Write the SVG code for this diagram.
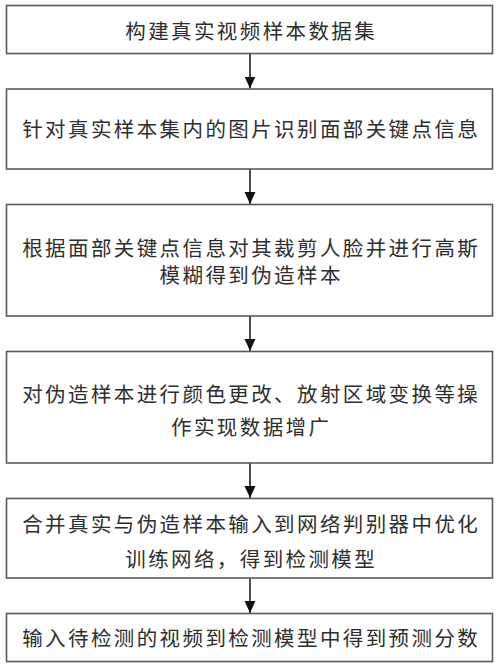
<svg xmlns="http://www.w3.org/2000/svg" width="500" height="668" viewBox="0 0 500 668">
<style>
.box{fill:#fff;stroke:#5a5a5a;stroke-width:1.6}
.t{font-family:"Noto Sans CJK SC","Noto Sans",sans-serif;font-size:20.5px;letter-spacing:2.4px;fill:#2e2e2e;text-anchor:middle;dominant-baseline:central}
.c{stroke:#111;stroke-width:1.5;fill:none}
</style>
<defs>
<marker id="ah" markerUnits="userSpaceOnUse" markerWidth="12" markerHeight="12" viewBox="0 0 11 10" refX="11" refY="5" orient="auto">
<path d="M0,0 L11,5 L0,10 Z" fill="#111"/>
</marker>
</defs>
<rect width="500" height="668" fill="#fff"/>
<g id="connectors">
<line class="c" x1="250" y1="53.5" x2="250" y2="88.5" marker-end="url(#ah)"/>
<line class="c" x1="250" y1="169" x2="250" y2="204" marker-end="url(#ah)"/>
<line class="c" x1="250" y1="316" x2="250" y2="351" marker-end="url(#ah)"/>
<line class="c" x1="250" y1="463" x2="250" y2="498" marker-end="url(#ah)"/>
<line class="c" x1="250" y1="578" x2="250" y2="613" marker-end="url(#ah)"/>
</g>
<g id="n1">
<rect class="box" x="6.5" y="5.5" width="486" height="48"/>
<text class="t" x="251.2" y="30">构建真实视频样本数据集</text>
</g>
<g id="n2">
<rect class="box" x="6.5" y="89" width="486" height="80"/>
<text class="t" x="251.2" y="127.5">针对真实样本集内的图片识别面部关键点信息</text>
</g>
<g id="n3">
<rect class="box" x="6.5" y="204.5" width="486" height="111.5"/>
<text class="t" x="251.2" y="246.5">根据面部关键点信息对其裁剪人脸并进行高斯</text>
<text class="t" x="251.2" y="274">模糊得到伪造样本</text>
</g>
<g id="n4">
<rect class="box" x="6.5" y="351.5" width="486" height="111.5"/>
<text class="t" x="251.2" y="393">对伪造样本进行颜色更改、放射区域变换等操</text>
<text class="t" x="251.2" y="426">作实现数据增广</text>
</g>
<g id="n5">
<rect class="box" x="6.5" y="498.5" width="486" height="79.5"/>
<text class="t" x="251.2" y="523">合并真实与伪造样本输入到网络判别器中优化</text>
<text class="t" x="251.2" y="558">训练网络，得到检测模型</text>
</g>
<g id="n6">
<rect class="box" x="6.5" y="613.5" width="486" height="48"/>
<text class="t" x="251.2" y="637">输入待检测的视频到检测模型中得到预测分数</text>
</g>
</svg>
